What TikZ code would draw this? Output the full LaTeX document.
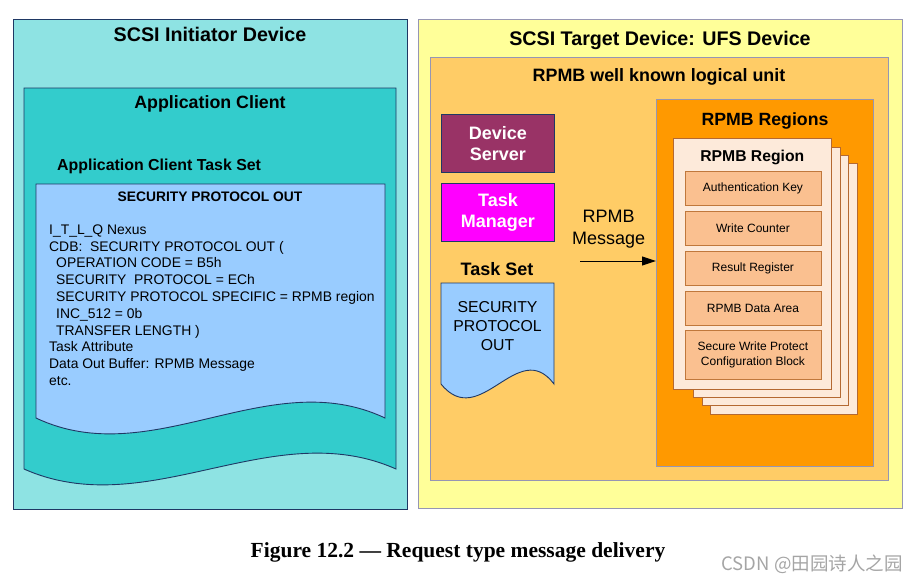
\documentclass[tikz,border=0pt]{standalone}
\usepackage{fontspec}
\setmainfont{Liberation Sans}
\newfontfamily\capfont{Liberation Serif}
\newfontfamily\cjk{Noto Sans CJK SC}
\usetikzlibrary{arrows.meta}

\definecolor{initfill}{RGB}{142,227,227}
\definecolor{clientfill}{RGB}{51,204,204}
\definecolor{docfill}{RGB}{153,204,255}
\definecolor{navyline}{RGB}{31,56,100}
\definecolor{targetfill}{RGB}{255,255,153}
\definecolor{greyline}{RGB}{150,150,180}
\definecolor{lufill}{RGB}{255,204,102}
\definecolor{regionsfill}{RGB}{255,153,0}
\definecolor{serverfill}{RGB}{153,51,102}
\definecolor{managerfill}{RGB}{255,0,255}
\definecolor{pagefill}{RGB}{253,234,218}
\definecolor{pageline}{RGB}{180,105,50}
\definecolor{fieldfill}{RGB}{250,192,144}
\definecolor{fieldline}{RGB}{192,120,60}
\definecolor{markgrey}{RGB}{165,165,165}

\tikzset{
  navybox/.style={draw=navyline, line width=0.9pt},
  greybox/.style={draw=greyline, line width=0.9pt},
  pagebox/.style={draw=pageline, fill=pagefill, line width=0.9pt},
  fieldbox/.style={draw=fieldline, fill=fieldfill, line width=0.9pt,
    minimum width=136pt, minimum height=34pt, inner sep=0pt, align=center,
    font=\fontsize{12}{15.7}\selectfont},
  cmdbox/.style={navybox, minimum width=113pt, minimum height=58pt, inner sep=0pt,
    align=center, text=white, font=\bfseries\fontsize{18}{21.7}\selectfont},
}

\begin{document}
\begin{tikzpicture}[x=1pt,y=-1pt]
\useasboundingbox (0,0) rectangle (921,584);

% initiator side
\draw[navybox, fill=initfill] (13,19) rectangle (407,509);
\node[anchor=base] (inittitle) at (210,41.3) {\bfseries\fontsize{19.7}{24}\selectfont SCSI Initiator Device};

\draw[navybox, fill=clientfill] (24,88) -- (396,88) -- (396,469)
  .. controls (272,414) and (148,524) .. (24,469) -- cycle;
\node[anchor=base] (clienttitle) at (210,108) {\bfseries\fontsize{17.8}{21}\selectfont Application Client};
\node[anchor=base west, inner sep=0pt] (clientset) at (57,170.7) {\bfseries\fontsize{15.9}{19}\selectfont Application Client Task Set};

\draw[navybox, fill=docfill] (36,184) -- (385,184) -- (385,418)
  .. controls (269,363) and (152,473) .. (36,418) -- cycle;
\node[anchor=base] (cmdhead) at (210,201.7) {\bfseries\fontsize{13.8}{17}\selectfont SECURITY PROTOCOL OUT};
% base of a multi-line node = baseline of its last line
\node[anchor=base west, align=left, inner sep=0pt, font=\fontsize{13.9}{16.8}\selectfont] (cmdtext) at (49,385.5)
  {I\_T\_L\_Q Nexus\\
   CDB: \ SECURITY PROTOCOL OUT (\\
   \hspace*{7pt}OPERATION CODE = B5h\\
   \hspace*{7pt}SECURITY \ PROTOCOL = ECh\\
   \hspace*{7pt}SECURITY PROTOCOL SPECIFIC = RPMB region\\
   \hspace*{7pt}INC\_512 = 0b\\
   \hspace*{7pt}TRANSFER LENGTH )\\
   Task Attribute\\
   Data Out Buffer: RPMB Message\\
   etc.};

% target side
\draw[greybox, fill=targetfill] (418,19) rectangle (902,508);
\node[anchor=base] (targettitle) at (660,45) {\bfseries\fontsize{19.7}{24}\selectfont SCSI Target Device: UFS Device};
\draw[greybox, fill=lufill] (430,57) rectangle (888,480);
\node[anchor=base] (lutitle) at (659,81) {\bfseries\fontsize{17.9}{21}\selectfont RPMB well known logical unit};

\node[cmdbox, fill=serverfill, anchor=north west] (server) at (441,114) {Device\\Server};
\node[cmdbox, fill=managerfill, anchor=north west] (taskmgr) at (441,183) {Task\\Manager};

\node[anchor=base] (tasksettitle) at (497,275.7) {\bfseries\fontsize{18}{21}\selectfont Task Set};
\draw[navybox, fill=docfill] (441,283) -- (554,283) -- (554,384)
  .. controls (518,336) and (480,432) .. (441,384) -- cycle;
\node[anchor=base, align=center, font=\fontsize{15.8}{19}\selectfont] (tasksettext) at (497.5,350.3) {SECURITY\\PROTOCOL\\OUT};

\node[anchor=base, align=center, font=\fontsize{18}{21.7}\selectfont] (msg) at (608.7,244.4) {RPMB\\Message};
\coordinate (msgtail) at (580,261);

\node[greybox, fill=regionsfill, anchor=north west, minimum width=217pt, minimum height=367pt, inner sep=0pt] (regions) at (656,99) {};
\node[anchor=base] (regionstitle) at (765,125) {\bfseries\fontsize{17.7}{21}\selectfont RPMB Regions};
\draw[-{Triangle[length=14pt,width=9pt]}, line width=1pt] (msgtail) -- (msgtail -| regions.west);

% stacked regions
\draw[pagebox] (710,163) rectangle (857,414);
\draw[pagebox] (702,155) rectangle (848,405);
\draw[pagebox] (693,147) rectangle (840,397);
\draw[pagebox] (673,138) rectangle (831,389);
\node[anchor=base] (regiontitle) at (752.3,161) {\bfseries\fontsize{15.7}{19}\selectfont RPMB Region};

\node[fieldbox, anchor=north west] (authkey) at (684.5,171) {Authentication Key};
\node[fieldbox, anchor=north west] (wcounter) at (684.5,211) {Write Counter};
\node[fieldbox, anchor=north west] (resreg) at (684.5,251) {Result Register};
\node[fieldbox, anchor=north west] (dataarea) at (684.5,291) {RPMB Data Area};
\node[fieldbox, anchor=north west, minimum height=49pt] (swpblock) at (684.5,330) {Secure Write Protect\\Configuration Block};

% caption
\node[anchor=base] (caption) at (458,557) {\capfont\bfseries\fontsize{21.5}{26}\selectfont Figure 12.2 — Request type message delivery};
\node[anchor=base, text=markgrey] (watermark) at (812,570.7) {\cjk\fontsize{18.5}{22}\selectfont CSDN @田园诗人之园};
\end{tikzpicture}
\end{document}
